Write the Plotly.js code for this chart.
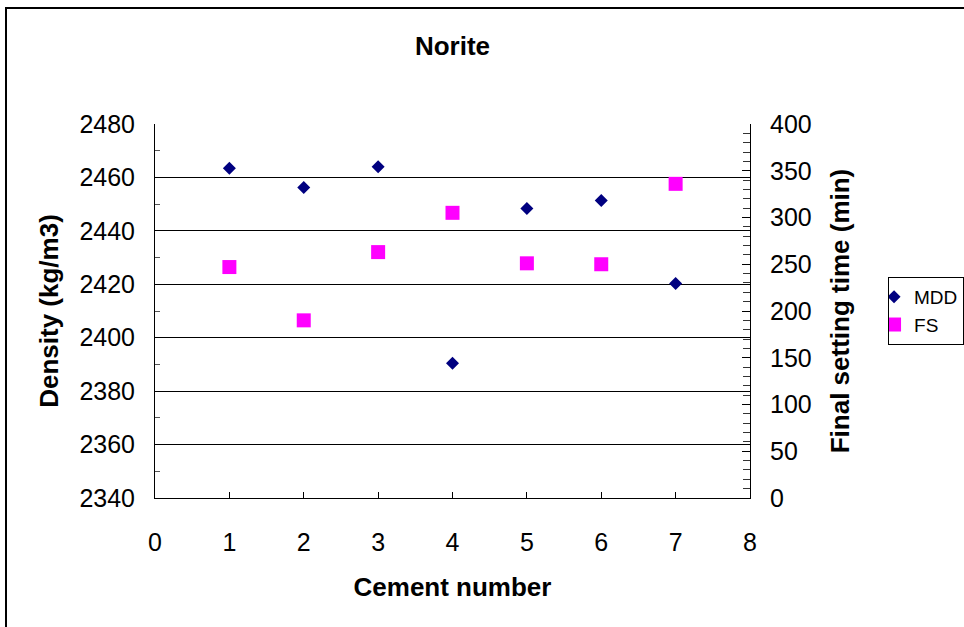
<!DOCTYPE html>
<html>
<head>
<meta charset="utf-8">
<script src="https://cdn.plot.ly/plotly-3.0.1.min.js"></script>
<style>
  html, body { margin: 0; padding: 0; background: #ffffff; }
  #chart { width: 964px; height: 627px; }
</style>
</head>
<body>
<div id="chart"></div>
<script>
// Data
const cementNumber = [1, 2, 3, 4, 5, 6, 7];
const mddDensity = [2463.4, 2456.2, 2464.0, 2390.4, 2448.4, 2451.4, 2420.3];   // kg/m3, left axis
const finalSetting = [247, 190, 263, 305, 251, 250, 336];                       // min, right axis
const seriesNames = ['MDD', 'FS'];
const chartTitle = 'Norite';
const xTitle = 'Cement number';
const yTitle = 'Density (kg/m3)';
const y2Title = 'Final setting time (min)';

const FONT = 'Liberation Sans, Arial, sans-serif';

const traces = [
  {
    x: cementNumber, y: mddDensity, name: seriesNames[0],
    type: 'scatter', mode: 'markers', yaxis: 'y',
    marker: { symbol: 'diamond', size: 10, color: '#000080', line: { width: 0 } }
  },
  {
    x: cementNumber, y: finalSetting, name: seriesNames[1],
    type: 'scatter', mode: 'markers', yaxis: 'y2',
    marker: { symbol: 'square', size: 14, color: '#FF00FF', line: { width: 0 } }
  }
];

const layout = {
  width: 964, height: 627,
  paper_bgcolor: '#ffffff', plot_bgcolor: '#ffffff',
  margin: { l: 155, r: 214, t: 124, b: 129, pad: 0, autoexpand: false },
  font: { family: FONT, color: '#000000', size: 25 },
  title: {
    text: '<b>' + chartTitle + '</b>',
    font: { family: FONT, size: 26, color: '#000' },
    x: 0.5, xref: 'paper', xanchor: 'center',
    y: 1 - 46 / 627, yref: 'container', yanchor: 'middle'
  },
  showlegend: true,
  legend: {
    x: 1.232, y: 0.591, xanchor: 'left', yanchor: 'top',
    bgcolor: '#ffffff', bordercolor: '#000000', borderwidth: 1,
    font: { family: FONT, size: 19, color: '#000' },
    itemwidth: 30, indentation: -15
  },
  xaxis: {
    range: [0, 8], dtick: 1, tick0: 0,
    ticks: 'inside', ticklen: 6, tickwidth: 1, tickcolor: '#000',
    showline: true, linecolor: '#000', linewidth: 1,
    showgrid: false, zeroline: false,
    tickfont: { family: FONT, size: 25 },
    ticklabelstandoff: 22,
    title: { text: '<b>' + xTitle + '</b>', font: { family: FONT, size: 26 }, standoff: 22 },
    automargin: false
  },
  yaxis: {
    range: [2340, 2480], dtick: 20, tick0: 2340,
    ticks: 'inside', ticklen: 6, tickwidth: 1, tickcolor: '#000',
    minor: { dtick: 10, ticks: 'inside', ticklen: 5, tickcolor: '#555', showgrid: false },
    showline: true, linecolor: '#000', linewidth: 1,
    showgrid: true, gridcolor: '#000', gridwidth: 1, zeroline: false,
    tickfont: { family: FONT, size: 25 },
    ticklabelstandoff: 14,
    title: { text: '<b>' + yTitle + '</b>', font: { family: FONT, size: 26 }, standoff: 13 },
    automargin: false
  },
  yaxis2: {
    overlaying: 'y', side: 'right', anchor: 'x',
    range: [0, 400], dtick: 50, tick0: 0,
    ticks: 'inside', ticklen: 8, tickwidth: 1, tickcolor: '#000',
    minor: { dtick: 10, ticks: 'inside', ticklen: 7, tickcolor: '#333', showgrid: false },
    showline: true, linecolor: '#000', linewidth: 1,
    showgrid: false, zeroline: false,
    tickfont: { family: FONT, size: 25 },
    ticklabelstandoff: 14,
    title: { text: '<b>' + y2Title + '</b>', font: { family: FONT, size: 26 }, standoff: 20 },
    automargin: false
  },
  shapes: [
    {
      type: 'rect', xref: 'paper', yref: 'paper',
      x0: (6 - 155) / 595, x1: (975 - 155) / 595,
      y0: (498 - 640) / 374, y1: (498 - 8) / 374,
      line: { color: '#000', width: 2 }, fillcolor: 'rgba(0,0,0,0)', layer: 'below'
    }
  ]
};

Plotly.newPlot('chart', traces, layout, { displayModeBar: false, staticPlot: true });
</script>
</body>
</html>
